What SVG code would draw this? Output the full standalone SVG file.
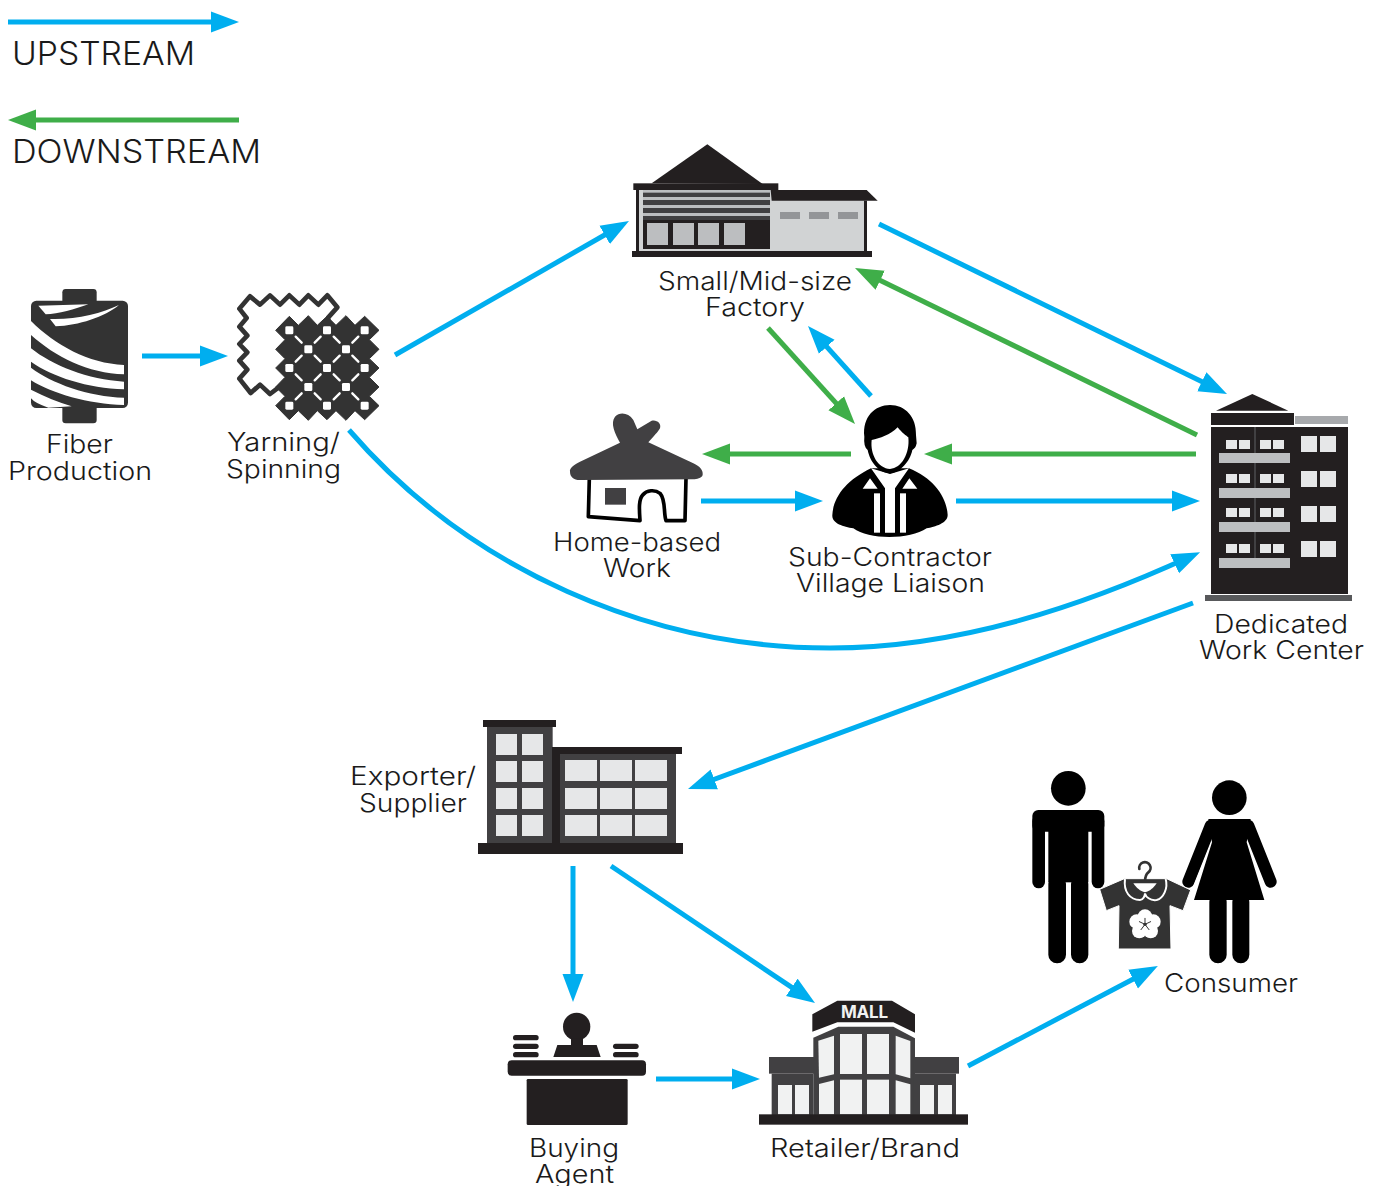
<svg xmlns="http://www.w3.org/2000/svg" width="1380" height="1186" viewBox="0 0 1380 1186">
<style>
text{font-family:Inter,"Liberation Sans",sans-serif;fill:#1a1a1a;font-size:25.5px;font-weight:300}
.lg{font-size:32px}
.c{fill:none;stroke-width:5}
.up{stroke:#00aeef;marker-end:url(#au)}
.dn{stroke:#3fae49;marker-end:url(#ad)}
.k{fill:#231f20}.g{fill:#414042}.w{fill:#e6e7e8}.s{fill:#bcbec0}.l{fill:#f1f2f2}.b{fill:#000}.t{fill:#333}.wh{fill:#fff}
</style>
<defs>
<marker id="au" markerUnits="userSpaceOnUse" markerWidth="30" markerHeight="22" refX="18" refY="11" orient="auto"><path d="M0 .5L28 11L0 21.5Z" fill="#00aeef"/></marker>
<marker id="ad" markerUnits="userSpaceOnUse" markerWidth="30" markerHeight="22" refX="18" refY="11" orient="auto"><path d="M0 .5L28 11L0 21.5Z" fill="#3fae49"/></marker>
</defs>
<g id="connectors">
<path class="c up" d="M142 356H218"/>
<path class="c up" d="M395 355L620.3 226"/>
<path class="c up" d="M879 224L1218 389.6"/>
<path class="c dn" d="M1197 435L864 272.4"/>
<path class="c dn" d="M768 328L848.3 416.6"/>
<path class="c up" d="M871 396L814.7 333.4"/>
<path class="c dn" d="M851 454H712"/>
<path class="c up" d="M701 501H813"/>
<path class="c dn" d="M1196 454H934"/>
<path class="c up" d="M956 501H1190"/>
<path class="c up" d="M349 430C470 570 650 648 830 648C960 648 1085 605 1191 556.3"/>
<path class="c up" d="M1193 603L697.4 785.5"/>
<path class="c up" d="M573 866V992"/>
<path class="c up" d="M611 866L806.7 997.4"/>
<path class="c up" d="M656 1079H750"/>
<path class="c up" d="M968 1066L1149 970.7"/>
</g>
<g id="legend-upstream"><path class="c up" d="M8 22H229"/><text class="lg" x="12" y="65" textLength="183" lengthAdjust="spacingAndGlyphs">UPSTREAM</text></g>
<g id="legend-downstream"><path class="c dn" d="M239 120H18"/><text class="lg" x="12" y="163" textLength="249" lengthAdjust="spacingAndGlyphs">DOWNSTREAM</text></g>
<g id="fiber">
<g transform="translate(25 285) scale(.33333)">
<rect x="112" y="12" width="103" height="50" rx="10" class="t"/><rect x="112" y="345" width="103" height="70" rx="10" class="t"/>
<rect x="18" y="47" width="291" height="322" rx="16" class="t"/>
<g class="wh"><path d="M40 62L190 58C150 72 100 88 62 88Z"/><path d="M75 102C150 105 230 85 282 60C240 95 160 122 92 124Z"/>
<path d="M18 108C90 180 190 235 297 240V268C190 265 90 215 18 150Z"/>
<path d="M18 190C80 240 190 285 297 290V313C190 310 80 275 18 230Z"/>
<path d="M18 248C80 295 190 335 297 338V360C190 358 80 325 18 286Z"/>
<path d="M18 314C60 335 100 352 140 364L70 368Q30 355 18 340Z"/></g>
</g>
<text x="46" y="453" textLength="67" lengthAdjust="spacingAndGlyphs">Fiber</text><text x="8" y="480" textLength="144" lengthAdjust="spacingAndGlyphs">Production</text>
</g>
<g id="yarning">
<g transform="translate(230 288) scale(.33333)">
<path class="wh" stroke="#333" stroke-width="14" stroke-linejoin="round" d="M28 62L60 25L90 50L120 22L150 50L178 22L208 50L235 22L265 50L292 22L322 58L295 88L290 250L150 295L120 318L90 290L62 315L28 272L52 245L28 218L52 193L28 168L52 143L28 116L50 90Z"/>
<path class="t" stroke="#333" stroke-width="3" stroke-linejoin="round" d="M137 127L178 85L205 112L235 83L262 112L291 85L318 112L348 83L375 112L404 85L447 127L418 155L447 184L418 212L447 240L418 268L447 297L418 325L447 353L404 395L375 368L348 397L318 368L291 395L262 368L235 397L205 368L178 395L137 353L165 325L137 297L165 268L137 240L165 212L137 184L165 155Z"/>
<g class="wh"><rect x="166" y="115" width="24" height="24" rx="4"/><rect x="279" y="115" width="24" height="24" rx="4"/><rect x="392" y="115" width="24" height="24" rx="4"/><rect x="223" y="172" width="24" height="24" rx="4"/><rect x="336" y="172" width="24" height="24" rx="4"/><rect x="166" y="228" width="24" height="24" rx="4"/><rect x="279" y="228" width="24" height="24" rx="4"/><rect x="392" y="228" width="24" height="24" rx="4"/><rect x="223" y="285" width="24" height="24" rx="4"/><rect x="336" y="285" width="24" height="24" rx="4"/><rect x="166" y="341" width="24" height="24" rx="4"/><rect x="279" y="341" width="24" height="24" rx="4"/><rect x="392" y="341" width="24" height="24" rx="4"/></g>
<path fill="none" stroke="#fff" stroke-width="7" stroke-linecap="round" d="M197 146l18 18M272 146l-18 18M215 203l-18 18M254 203l18 18M311 146l18 18M385 146l-18 18M329 203l-18 18M367 203l18 18M197 259l18 18M272 259l-18 18M215 316l-18 18M254 316l18 18M311 259l18 18M385 259l-18 18M329 316l-18 18M367 316l18 18"/>
</g>
<text x="227" y="451" textLength="113" lengthAdjust="spacingAndGlyphs">Yarning/</text><text x="226" y="478" textLength="115" lengthAdjust="spacingAndGlyphs">Spinning</text>
</g>
<g id="factory">
<g transform="translate(620 135) scale(.33333)">
<path class="k" d="M95 145L262 28L428 147Z"/><rect x="40" y="145" width="435" height="20" class="k"/>
<rect x="48" y="165" width="9" height="190" class="k"/>
<rect x="57" y="165" width="678" height="183" fill="#d1d3d4"/>
<rect x="69" y="165" width="381" height="90" class="s"/>
<g class="g"><rect x="69" y="173" width="381" height="13"/><rect x="69" y="195" width="381" height="15"/><rect x="69" y="219" width="381" height="15"/><rect x="69" y="243" width="381" height="12"/></g>
<rect x="69" y="255" width="381" height="87" class="k"/>
<g class="s"><rect x="81" y="264" width="63" height="66"/><rect x="159" y="264" width="63" height="66"/><rect x="234" y="264" width="63" height="66"/><rect x="312" y="264" width="63" height="66"/></g>
<path class="k" d="M452 165H740L773 197H455Z"/><rect x="732" y="197" width="9" height="151" class="k"/>
<g fill="#939598"><rect x="480" y="231" width="60" height="21"/><rect x="567" y="231" width="60" height="21"/><rect x="654" y="231" width="60" height="21"/></g>
<rect x="36" y="348" width="720" height="18" class="k"/>
</g>
<text x="658" y="290" textLength="194" lengthAdjust="spacingAndGlyphs">Small/Mid-size</text><text x="705" y="316" textLength="100" lengthAdjust="spacingAndGlyphs">Factory</text>
</g>
<g id="home">
<g transform="translate(560 400) scale(.33333)">
<path fill="none" stroke="#000" stroke-width="11" stroke-linejoin="round" d="M88 235L85 350L240 362C238 330 235 300 248 285C260 270 285 268 300 280C318 300 310 340 318 362L375 362L378 235"/>
<rect x="135" y="264" width="63" height="50" class="g"/>
<path class="g" d="M30 215C28 205 40 195 60 185L180 128C165 100 150 70 165 50C180 35 205 38 220 60L232 88L275 62C290 58 305 70 300 85C295 95 280 110 265 127L400 190C420 200 430 210 428 225C425 235 410 237 400 238L60 240C40 240 30 230 30 215Z"/>
</g>
<text x="553" y="551" textLength="168" lengthAdjust="spacingAndGlyphs">Home-based</text><text x="603" y="577" textLength="68" lengthAdjust="spacingAndGlyphs">Work</text>
</g>
<g id="subcontractor">
<g transform="translate(825 400) scale(.33333)">
<path class="b" d="M22 345C25 290 65 240 138 205H252C325 235 365 290 368 345C368 370 330 380 305 385C255 420 130 420 85 385C55 380 20 370 22 345Z"/>
<path class="wh" d="M138 205L180 265V398H210V265L252 205L195 222Z"/>
<path class="wh" d="M113 266L135 235L158 266ZM232 266L253 235L277 266Z"/>
<rect x="147" y="280" width="18" height="118" class="wh"/><rect x="225" y="280" width="18" height="118" class="wh"/>
<path class="b" d="M118 110C112 50 150 15 195 15C240 15 275 50 273 105L275 130Q272 145 262 150C255 185 225 218 195 220C160 218 135 185 128 150Q115 140 118 110Z"/>
<path class="wh" d="M140 120C165 115 195 105 218 82C230 98 245 108 250 112C255 160 230 205 195 207C160 205 135 165 140 120Z"/>
</g>
<text x="788" y="566" textLength="204" lengthAdjust="spacingAndGlyphs">Sub-Contractor</text><text x="796" y="592" textLength="189" lengthAdjust="spacingAndGlyphs">Village Liaison</text>
</g>
<g id="dedicated">
<g transform="translate(1190 385) scale(.33333)">
<path class="k" d="M78 77L187 27L295 77Z"/><rect x="63" y="84" width="249" height="36" class="k"/><rect x="315" y="93" width="159" height="24" fill="#a7a9ac"/>
<rect x="63" y="126" width="411" height="501" class="k"/><rect x="192" y="126" width="6" height="394" class="g"/>
<g class="s"><rect x="87" y="204" width="213" height="30"/><rect x="87" y="309" width="213" height="30"/><rect x="87" y="411" width="213" height="30"/><rect x="87" y="519" width="213" height="30"/></g>
<g class="w">
<rect x="108" y="165" width="33" height="27"/><rect x="147" y="165" width="33" height="27"/><rect x="210" y="165" width="33" height="27"/><rect x="249" y="165" width="33" height="27"/>
<rect x="108" y="267" width="33" height="27"/><rect x="147" y="267" width="33" height="27"/><rect x="210" y="267" width="33" height="27"/><rect x="249" y="267" width="33" height="27"/>
<rect x="108" y="369" width="33" height="27"/><rect x="147" y="369" width="33" height="27"/><rect x="210" y="369" width="33" height="27"/><rect x="249" y="369" width="33" height="27"/>
<rect x="108" y="477" width="33" height="27"/><rect x="147" y="477" width="33" height="27"/><rect x="210" y="477" width="33" height="27"/><rect x="249" y="477" width="33" height="27"/>
<rect x="333" y="153" width="48" height="48"/><rect x="390" y="153" width="48" height="48"/><rect x="333" y="258" width="48" height="48"/><rect x="390" y="258" width="48" height="48"/><rect x="333" y="363" width="48" height="48"/><rect x="390" y="363" width="48" height="48"/><rect x="333" y="468" width="48" height="48"/><rect x="390" y="468" width="48" height="48"/>
</g>
<rect x="45" y="630" width="441" height="18" fill="#58595b"/>
</g>
<text x="1214" y="633" textLength="134" lengthAdjust="spacingAndGlyphs">Dedicated</text><text x="1199" y="659" textLength="165" lengthAdjust="spacingAndGlyphs">Work Center</text>
</g>
<g id="exporter">
<g transform="translate(470 710) scale(.33333)">
<rect x="39" y="30" width="219" height="21" class="k"/><rect x="51" y="51" width="197" height="350" class="g"/>
<rect x="246" y="111" width="390" height="21" class="k"/><rect x="246" y="132" width="24" height="270" class="k"/><rect x="270" y="132" width="348" height="270" class="g"/>
<g class="w">
<rect x="78" y="72" width="63" height="63"/><rect x="156" y="72" width="63" height="63"/><rect x="78" y="153" width="63" height="63"/><rect x="156" y="153" width="63" height="63"/><rect x="78" y="234" width="63" height="63"/><rect x="156" y="234" width="63" height="63"/><rect x="78" y="315" width="63" height="63"/><rect x="156" y="315" width="63" height="63"/>
<rect x="285" y="150" width="96" height="63"/><rect x="390" y="150" width="96" height="63"/><rect x="495" y="150" width="96" height="63"/><rect x="285" y="234" width="96" height="63"/><rect x="390" y="234" width="96" height="63"/><rect x="495" y="234" width="96" height="63"/><rect x="285" y="315" width="96" height="63"/><rect x="390" y="315" width="96" height="63"/><rect x="495" y="315" width="96" height="63"/>
</g>
<rect x="24" y="399" width="615" height="33" class="k"/>
</g>
<text x="350" y="785" textLength="126" lengthAdjust="spacingAndGlyphs">Exporter/</text><text x="359" y="812" textLength="108" lengthAdjust="spacingAndGlyphs">Supplier</text>
</g>
<g id="consumer">
<g transform="translate(1020 765) scale(.33333)">
<g class="b">
<circle cx="145" cy="70" r="52"/>
<rect x="37" y="135" width="216" height="65" rx="18"/><rect x="37" y="150" width="38" height="220" rx="19"/><rect x="215" y="150" width="38" height="220" rx="19"/>
<rect x="85" y="135" width="120" height="217"/><rect x="85" y="330" width="53" height="265" rx="26"/><rect x="153" y="330" width="52" height="265" rx="26"/>
<circle cx="628" cy="98" r="52"/>
</g>
<path fill="none" stroke="#000" stroke-width="36" stroke-linecap="round" d="M572 182L505 350M685 182L752 350"/>
<path fill="none" stroke="#fff" stroke-width="8" d="M578 232L522 370M678 232L734 370"/>
<path class="b" d="M565 162H692L680 232L733 405H522L576 232Z"/>
<rect x="568" y="385" width="52" height="210" rx="26" class="b"/><rect x="637" y="385" width="51" height="210" rx="26" class="b"/>
</g>
<g transform="translate(1095 855) scale(.33333)">
<path class="t" stroke="#fff" stroke-width="3" stroke-linejoin="round" d="M14 103L88 71L215 71L287 105L264 167L225 152L228 282H70L72 152L34 167Z"/>
<path fill="none" stroke="#fff" stroke-width="6" d="M90 72C85 110 105 135 135 135C145 135 150 122 150 115C152 125 165 138 185 135C205 130 220 100 212 72"/>
<path class="wh" d="M115 85H185C175 100 165 108 150 112C135 108 125 100 115 85Z"/>
<path fill="none" stroke="#333" stroke-width="8" stroke-linecap="round" d="M133 42A17 17 0 1 1 160 52Q150 60 150 80M112 80H188"/>
<g class="wh"><circle cx="150" cy="185" r="22"/><circle cx="125" cy="200" r="22"/><circle cx="175" cy="200" r="22"/><circle cx="133" cy="228" r="22"/><circle cx="167" cy="228" r="22"/><circle cx="150" cy="208" r="20"/></g>
<path fill="none" stroke="#333" stroke-width="3" stroke-linecap="round" d="M150 208V190M150 208L133 200M150 208L167 200M150 208L138 224M150 208L162 224"/>
<circle cx="150" cy="208" r="5" class="t"/>
</g>
<text x="1164" y="992" textLength="134" lengthAdjust="spacingAndGlyphs">Consumer</text>
</g>
<g id="agent">
<g transform="translate(500 995) scale(.33333)">
<ellipse cx="230" cy="95" rx="41" ry="42" class="k"/><rect x="213" y="130" width="36" height="25" class="k"/>
<path class="k" d="M160 186L172 150H290L302 186Z"/>
<rect x="23" y="196" width="415" height="46" rx="12" class="k"/><rect x="80" y="252" width="303" height="138" rx="4" class="k"/>
<g class="k"><rect x="39" y="120" width="77" height="16" rx="8"/><rect x="39" y="146" width="77" height="16" rx="8"/><rect x="39" y="171" width="77" height="16" rx="8"/><rect x="339" y="146" width="77" height="16" rx="8"/><rect x="339" y="171" width="77" height="16" rx="8"/></g>
</g>
<text x="529" y="1157" textLength="90" lengthAdjust="spacingAndGlyphs">Buying</text><text x="535" y="1183" textLength="79" lengthAdjust="spacingAndGlyphs">Agent</text>
</g>
<g id="retailer">
<g transform="translate(500 995) scale(.33333)">
<path class="g" d="M940 128L1015 95H1180L1245 130V360H940Z"/>
<rect x="807" y="186" width="135" height="50" class="g"/><rect x="1240" y="186" width="137" height="50" class="g"/>
<rect x="815" y="236" width="125" height="125" class="g"/><rect x="1240" y="236" width="128" height="125" class="g"/>
<g class="l"><rect x="1020" y="117" width="66" height="120"/><rect x="1101" y="117" width="66" height="120"/><path d="M955 137L1002 122V238L957 248Z"/><path d="M1187 122L1231 138V250L1187 238Z"/>
<rect x="1020" y="254" width="66" height="104"/><rect x="1101" y="254" width="66" height="104"/><path d="M957 267L1002 256V358H957Z"/><path d="M1187 256L1231 268V358H1187Z"/>
<rect x="834" y="270" width="42" height="88"/><rect x="885" y="270" width="42" height="88"/><rect x="1260" y="270" width="42" height="88"/><rect x="1314" y="270" width="42" height="88"/></g>
<path class="k" d="M937 58L1012 17H1176L1245 58V113L1180 82H1012L937 110Z"/>
<rect x="777" y="358" width="627" height="31" class="k"/>
</g>
<text x="841" y="1018" style="font-size:17px;font-weight:700;fill:#f1f2f2" textLength="47" lengthAdjust="spacing">MALL</text>
<text x="770" y="1157" textLength="190" lengthAdjust="spacingAndGlyphs">Retailer/Brand</text>
</g>
</svg>
